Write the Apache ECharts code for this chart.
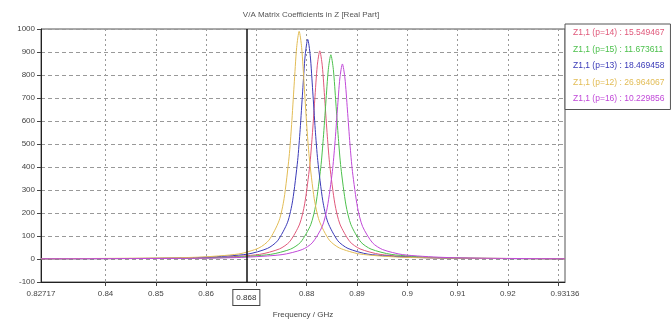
<!DOCTYPE html>
<html>
<head>
<meta charset="utf-8">
<script src="https://cdn.jsdelivr.net/npm/echarts@6/dist/echarts.min.js"></script>
<style>
  html, body { margin: 0; padding: 0; background: #fff; }
  #chart { width: 671px; height: 326px; }
</style>
</head>
<body>
<div id="chart"></div>
<script>
// tick / label values
const xTicks = [0.84, 0.85, 0.86, 0.87, 0.88, 0.89, 0.9, 0.91, 0.92, 0.93];
const xLabels = [0.82717, 0.84, 0.85, 0.86, 0.868, 0.88, 0.89, 0.9, 0.91, 0.92, 0.93136];
const markerFreq = 0.868;

const names = [
  'Z1,1 (p=14) : 15.549467',
  'Z1,1 (p=15) : 11.673611',
  'Z1,1 (p=13) : 18.469458',
  'Z1,1 (p=12) : 26.964067',
  'Z1,1 (p=16) : 10.229856'
];
const colors = ['#e0587a', '#4cc04c', '#3a3ab8', '#e2bc55', '#c048d8'];

// p=12 (yellow)
const freqP12 = [0.82717, 0.8485, 0.8585, 0.8665, 0.8705, 0.8725, 0.8745, 0.8755, 0.8765, 0.8770, 0.8775, 0.8780, 0.8785,
  0.8790, 0.8795, 0.8800, 0.8805, 0.8815, 0.8825, 0.8845, 0.8865, 0.8905, 0.8985, 0.9085, 0.93136];
const realP12 = [1, 4, 8, 22, 48, 82, 166, 262, 444, 584, 756, 919, 990,
  919, 756, 584, 444, 262, 166, 82, 48, 22, 8, 4, 1];

// p=13 (blue)
const freqP13 = [0.82717, 0.8502, 0.8602, 0.8682, 0.8722, 0.8742, 0.8762, 0.8772, 0.8782, 0.8787, 0.8792, 0.8797, 0.8802,
  0.8807, 0.8812, 0.8817, 0.8822, 0.8832, 0.8842, 0.8862, 0.8882, 0.8922, 0.9002, 0.9102, 0.93136];
const realP13 = [1, 3, 8, 21, 46, 79, 160, 253, 428, 563, 730, 886, 955,
  886, 730, 563, 428, 253, 160, 79, 46, 21, 8, 3, 1];

// p=14 (red)
const freqP14 = [0.82717, 0.8526, 0.8626, 0.8706, 0.8746, 0.8766, 0.8786, 0.8796, 0.8806, 0.8811, 0.8816, 0.8821, 0.8826,
  0.8831, 0.8836, 0.8841, 0.8846, 0.8856, 0.8866, 0.8886, 0.8906, 0.8946, 0.9026, 0.9126, 0.93136];
const realP14 = [1, 3, 7, 20, 44, 75, 152, 240, 405, 534, 691, 840, 905,
  840, 691, 534, 405, 240, 152, 75, 44, 20, 7, 3, 1];

// p=15 (green)
const freqP15 = [0.82717, 0.8548, 0.8648, 0.8728, 0.8768, 0.8788, 0.8808, 0.8818, 0.8828, 0.8833, 0.8838, 0.8843, 0.8848,
  0.8853, 0.8858, 0.8863, 0.8868, 0.8878, 0.8888, 0.8908, 0.8928, 0.8968, 0.9048, 0.9148, 0.93136];
const realP15 = [1, 3, 7, 20, 43, 73, 149, 235, 398, 524, 678, 824, 888,
  824, 678, 524, 398, 235, 149, 73, 43, 20, 7, 3, 1];

// p=16 (magenta)
const freqP16 = [0.82717, 0.8571, 0.8671, 0.8751, 0.8791, 0.8811, 0.8831, 0.8841, 0.8851, 0.8856, 0.8861, 0.8866, 0.8871,
  0.8876, 0.8881, 0.8886, 0.8891, 0.8901, 0.8911, 0.8931, 0.8951, 0.8991, 0.9071, 0.9171, 0.93136];
const realP16 = [1, 3, 7, 19, 41, 70, 142, 225, 380, 500, 648, 787, 848,
  787, 648, 500, 380, 225, 142, 70, 41, 19, 7, 3, 1];

const seriesData = [
  [freqP14, realP14],
  [freqP15, realP15],
  [freqP13, realP13],
  [freqP12, realP12],
  [freqP16, realP16]
];

const font = '"Liberation Sans Narrow", "Liberation Sans", sans-serif';

const chart = echarts.init(document.getElementById('chart'));

const series = seriesData.map((d, i) => ({
  name: names[i],
  type: 'line',
  data: d[0].map((f, k) => [f, d[1][k]]),
  showSymbol: false,
  smooth: 0.25,
  lineStyle: { width: 1, color: colors[i] },
  itemStyle: { color: colors[i] },
  z: 3
}));

// marker line at 0.868 GHz
series[0].markLine = {
  silent: true,
  symbol: 'none',
  precision: 5,
  label: { show: false },
  lineStyle: { color: '#111', width: 1.5, type: 'solid' },
  data: [{ xAxis: markerFreq }],
  animation: false
};

chart.setOption({
  animation: false,
  title: {
    text: 'V/A Matrix Coefficients in Z [Real Part]',
    left: 306,
    textAlign: 'center',
    top: 6,
    textStyle: { fontSize: 8, fontWeight: 'normal', color: '#555', fontFamily: font }
  },
  legend: {
    orient: 'vertical',
    left: 565,
    top: 24,
    icon: 'none',
    itemWidth: 0,
    itemHeight: 10,
    itemGap: 7,
    padding: [4, 6, 6, 3],
    backgroundColor: '#fff',
    borderColor: '#555',
    borderWidth: 1,
    data: names.map((n, i) => ({ name: n, textStyle: { color: colors[i] } })),
    textStyle: { fontSize: 8.5, fontFamily: font }
  },
  grid: {
    left: 41,
    right: 106,
    top: 29,
    bottom: 44,
    show: true,
    borderColor: '#555',
    borderWidth: 1
  },
  xAxis: {
    type: 'value',
    min: 0.82717,
    max: 0.93136,
    name: 'Frequency / GHz',
    nameLocation: 'middle',
    nameGap: 24,
    nameTextStyle: { fontSize: 8, color: '#444', fontFamily: font },
    axisLine: { show: true, onZero: false, lineStyle: { color: '#222' } },
    axisTick: { show: true, customValues: xTicks, length: 4, lineStyle: { color: '#444' } },
    axisLabel: {
      customValues: xLabels,
      fontSize: 8,
      color: '#444',
      fontFamily: font,
      margin: 8,
      formatter: v => Math.abs(v - markerFreq) < 1e-9 ? '{box|0.868}' : String(+v.toFixed(5)),
      rich: {
        box: {
          fontSize: 8,
          color: '#333',
          fontFamily: font,
          borderColor: '#444',
          borderWidth: 1,
          backgroundColor: '#fff',
          padding: [4, 3, 3, 3]
        }
      }
    },
    splitLine: { show: true, lineStyle: { color: '#999', type: [2, 3], width: 1 } }
  },
  yAxis: {
    type: 'value',
    min: -100,
    max: 1000,
    interval: 100,
    axisLine: { show: true, lineStyle: { color: '#222' } },
    axisTick: { show: true, length: 4, lineStyle: { color: '#444' } },
    axisLabel: { fontSize: 8, color: '#444', fontFamily: font, margin: 6, formatter: v => String(v) },
    splitLine: { show: true, lineStyle: { color: '#999', type: [4, 3], width: 1 } }
  },
  series: series
});
</script>
</body>
</html>
